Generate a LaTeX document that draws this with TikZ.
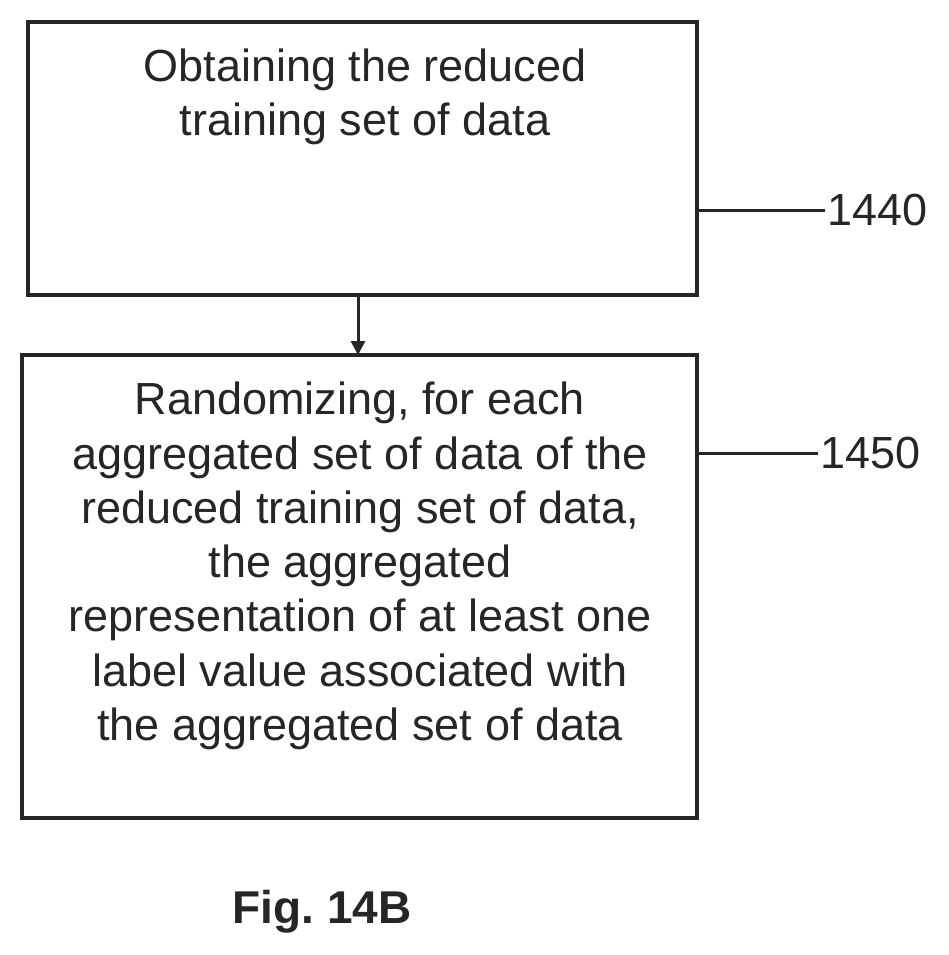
\documentclass[tikz,border=0pt]{standalone}
\usepackage{fontspec}
\setmainfont{Liberation Sans}
\usetikzlibrary{arrows.meta}
\begin{document}
\begin{tikzpicture}[x=1pt,y=-1pt,
  box/.style={draw=black!85,line width=4pt},
  txt/.style={font=\fontsize{45}{54.3}\selectfont,align=center,text=black!85},
  lab/.style={font=\fontsize{45}{48}\selectfont,text=black!85},
  ln/.style={draw=black!85,line width=3pt}]
\useasboundingbox (0,0) rectangle (948,955);
\draw[box] (28,22) rectangle (697,295);
\node[coordinate] (b1) at (358,295) {};
\draw[box] (22,355) rectangle (697,818);
\node[coordinate] (b2) at (358,355) {};
\node[txt] (t1) at (365,97) {Obtaining the reduced\\training set of data};
\node[txt] (t2) at (360,566) {Randomizing, for each\\aggregated set of data of the\\reduced training set of data,\\the aggregated\\representation of at least one\\label value associated with\\the aggregated set of data};
\draw[ln,-{Triangle[length=14pt,width=14pt]}] (b1) -- (b2);
\node[lab,anchor=west,inner sep=2pt] (l1) at (825,210) {1440};
\node[coordinate] (c1) at (699,210) {};
\draw[ln] (c1) -- (l1.west);
\node[lab,anchor=west,inner sep=2pt] (l2) at (818,453) {1450};
\node[coordinate] (c2) at (699,453) {};
\draw[ln] (c2) -- (l2.west);
\node[font=\bfseries\fontsize{46}{50}\selectfont,text=black!85] (fig) at (322,912) {Fig.~14B};
\end{tikzpicture}
\end{document}
